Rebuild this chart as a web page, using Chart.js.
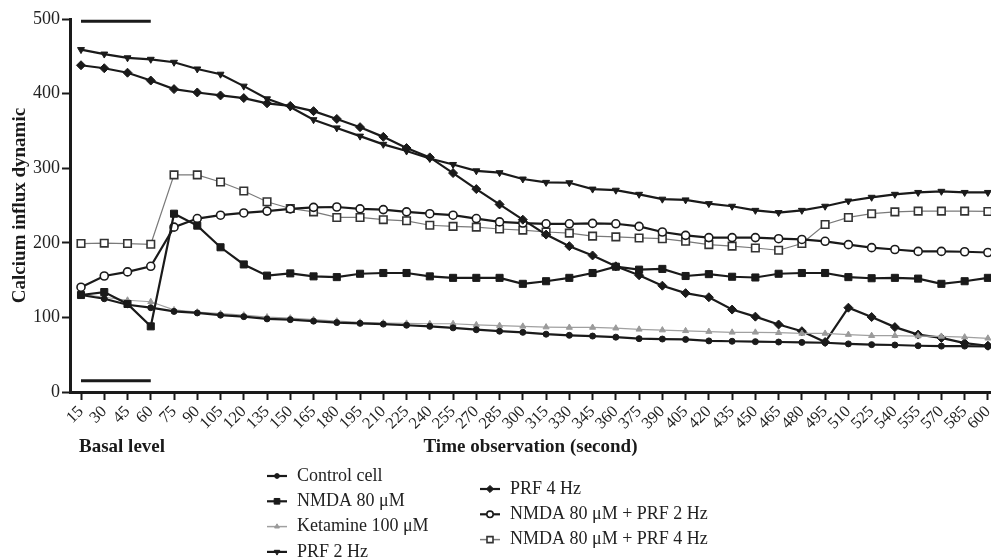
<!DOCTYPE html>
<html>
<head>
<meta charset="utf-8">
<script src="https://cdn.jsdelivr.net/npm/chart.js@4.4.1/dist/chart.umd.min.js"></script>
<style>
  html, body { margin: 0; padding: 0; background: #fff; overflow: hidden; }
  #wrap { width: 991px; height: 558px; position: relative; }
</style>
</head>
<body>
<div id="wrap"><canvas id="calcium-chart"></canvas></div>
<script>
// time points (seconds)
const times = [15, 30, 45, 60, 75, 90, 105, 120, 135, 150, 165, 180, 195, 210, 225, 240, 255, 270, 285, 300,
  315, 330, 345, 360, 375, 390, 405, 420, 435, 450, 465, 480, 495, 510, 525, 540, 555, 570, 585, 600];

const yTicks = [0, 100, 200, 300, 400, 500];

// series
const controlCell = [130, 125, 117, 113, 108, 106, 103, 101, 98, 97, 95, 93, 92, 91, 89.5, 88, 86, 83.5, 81.5, 80,
  77.5, 76, 75, 73.5, 71.5, 71, 70.5, 68.5, 68, 67.5, 67, 66.5, 66, 64.5, 63.5, 63, 62, 61.5, 61.5, 61];
const nmda80 = [130, 134, 118, 88, 239, 223, 194, 171, 156, 159, 155, 154, 158.5, 159.5, 159.5, 155, 153, 153, 153, 145,
  148.5, 153, 159.5, 168, 164, 165, 155.5, 158, 154.5, 153.5, 158.5, 159.5, 159.5, 154, 152.5, 153, 152, 145, 148.5, 153];
const ketamine100 = [131, 127, 123, 121, 110, 107, 105, 103, 100.5, 99, 97, 95, 93.5, 92.5, 92, 91.5, 91.5, 90, 89, 88,
  87, 86.5, 86.5, 85.5, 84, 83, 82, 81, 80, 80, 79.5, 78.5, 78.5, 77, 75.5, 75.5, 75, 74.5, 73.5, 72];
const prf2 = [459, 453, 448, 446, 442, 433, 426, 410, 393, 382, 365, 354, 343, 332, 323, 313, 305, 296.5, 294, 285.5,
  281, 280.5, 272, 270.5, 265, 258.5, 257.5, 252.5, 249, 243.5, 240.5, 243.5, 249, 256, 261, 265, 267.5, 269, 267.5, 267.5];
const prf4 = [438, 434, 428, 417.5, 406, 401.5, 397.5, 394, 387, 383.5, 376.5, 366, 355, 342, 327, 314.5, 293.5, 272, 251.5, 231,
  211, 195.5, 183, 168.5, 156.5, 142.5, 132.5, 127, 110.5, 101, 90.5, 81.5, 67, 113, 100.5, 87, 77, 72.5, 65.5, 62];
const nmdaPrf2 = [140.5, 155.5, 161, 168.5, 221, 232.5, 237, 240, 242.5, 245.5, 247.5, 248, 245.5, 244.5, 241.5, 239, 237, 232.5, 228, 226.5,
  225.5, 225.5, 226, 225.5, 222, 214.5, 210, 207, 207, 207, 205.5, 204.5, 202, 197.5, 193.5, 191, 188.5, 188.5, 188, 187];
const nmdaPrf4 = [199, 199.5, 199, 198, 291, 291, 281.5, 269.5, 255, 246, 241.5, 234, 234, 231, 229.5, 223.5, 222, 221, 218.5, 217,
  214.5, 213, 209, 208, 206.5, 205.5, 202, 197.5, 195.5, 193, 190, 199, 224.5, 234, 239, 241.5, 242.5, 242.5, 242.5, 242];

// basal level bars (15 - 60 s)
const basalTimes = [15, 60];
const basalTop = [497, 497];
const basalBottom = [15, 15];

const INK = '#1a1a1a';
const serif = '"Liberation Serif", "DejaVu Serif", serif';

function toPoints(xs, ys) {
    return ys.map((v, i) => ({ x: xs[i], y: v }));
}

function series(label, values, opts) {
    return Object.assign({
        label: label,
        data: toPoints(times, values),
        borderColor: INK,
        borderWidth: 2.2,
        pointBackgroundColor: INK,
        pointBorderColor: INK,
        pointBorderWidth: 1,
        pointRadius: 3.5,
        pointStyle: 'circle',
        pointRotation: 0,
        tension: 0,
        clip: false
    }, opts);
}

function basalBar(values) {
    return {
        label: '',
        basal: true,
        data: toPoints(basalTimes, values),
        borderColor: INK,
        borderWidth: 3,
        pointRadius: 0,
        clip: false
    };
}

const datasets = [
    series('Control cell', controlCell, { pointRadius: 3 }),
    series('NMDA 80 μM', nmda80, { pointStyle: 'rect', pointRadius: 5 }),
    series('Ketamine 100 μM', ketamine100, {
        borderColor: '#a0a0a0', borderWidth: 1.2,
        pointBackgroundColor: '#9a9a9a', pointBorderColor: '#9a9a9a',
        pointStyle: 'triangle', pointRadius: 3.5
    }),
    series('PRF 2 Hz', prf2, { pointStyle: 'triangle', pointRotation: 180, pointRadius: 4 }),
    series('PRF 4 Hz', prf4, { pointStyle: 'rectRot', pointRadius: 4.5 }),
    series('NMDA 80 μM + PRF 2 Hz', nmdaPrf2, {
        pointBackgroundColor: '#ffffff', pointBorderWidth: 1.6, pointRadius: 4
    }),
    series('NMDA 80 μM + PRF 4 Hz', nmdaPrf4, {
        borderColor: '#7a7a7a', borderWidth: 1.2,
        pointBackgroundColor: '#ffffff', pointBorderColor: '#333333',
        pointBorderWidth: 1.6, pointStyle: 'rect', pointRadius: 5.3
    }),
    basalBar(basalTop),
    basalBar(basalBottom)
];

// two-column legend under the axis, second column centred against the first
const legendColumns = [[0, 1, 2, 3], [4, 5, 6]];

const columnLegend = {
    id: 'columnLegend',
    afterDraw(chart) {
        const ctx = chart.ctx;
        const colX = [267, 480];
        const colTop = [476, 489];
        const rowGap = 25.3;
        ctx.save();
        legendColumns.forEach((col, c) => {
            col.forEach((di, r) => {
                const ds = chart.data.datasets[di];
                const x = colX[c];
                const y = colTop[c] + r * rowGap;
                ctx.strokeStyle = ds.borderColor;
                ctx.lineWidth = Math.max(ds.borderWidth, 1.5);
                ctx.beginPath();
                ctx.moveTo(x, y);
                ctx.lineTo(x + 20, y);
                ctx.stroke();
                ctx.fillStyle = ds.pointBackgroundColor;
                ctx.strokeStyle = ds.pointBorderColor;
                ctx.lineWidth = ds.pointBorderWidth;
                Chart.helpers.drawPoint(ctx, {
                    pointStyle: ds.pointStyle,
                    rotation: ds.pointRotation,
                    radius: ds.pointRadius * 0.8,
                    borderWidth: ds.pointBorderWidth
                }, x + 10, y);
                ctx.fillStyle = '#222';
                ctx.font = '18px ' + serif;
                ctx.textAlign = 'left';
                ctx.textBaseline = 'middle';
                ctx.fillText(ds.label, x + 30, y);
            });
        });
        // "Basal level" note under the first ticks
        const xs = chart.scales.x;
        ctx.fillStyle = INK;
        ctx.font = 'bold 19px ' + serif;
        ctx.textBaseline = 'middle';
        ctx.fillText('Basal level', xs.getPixelForValue(basalTimes[0]) - 2, 447);
        ctx.restore();
    }
};

const config = {
    type: 'line',
    data: { datasets: datasets },
    options: {
        responsive: true,
        maintainAspectRatio: false,
        animation: false,
        layout: { autoPadding: false, padding: { top: 19, left: 0, right: 0, bottom: 0 } },
        plugins: {
            legend: { display: false },
            tooltip: { enabled: false }
        },
        scales: {
            x: {
                type: 'linear',
                min: 7.9,
                max: 602,
                afterBuildTicks: (axis) => { axis.ticks = times.map(v => ({ value: v })); },
                afterFit: (s) => { s.height = 166; s.paddingLeft = 0; s.paddingRight = 0; },
                border: { display: true, color: INK, width: 3 },
                grid: { drawOnChartArea: false, drawTicks: true, tickLength: 8, tickWidth: 2, tickColor: INK },
                ticks: {
                    autoSkip: false,
                    minRotation: 45,
                    maxRotation: 45,
                    padding: 2,
                    color: '#222',
                    font: { family: serif, size: 16.5 }
                },
                title: {
                    display: true,
                    text: 'Time observation (second)',
                    color: INK,
                    font: { family: serif, size: 19, weight: 'bold' },
                    padding: { top: 0, bottom: 99.6 }
                }
            },
            y: {
                min: 0,
                max: 500,
                afterBuildTicks: (axis) => { axis.ticks = yTicks.map(v => ({ value: v })); },
                afterFit: (s) => { s.width = 70; s.paddingTop = 0; s.paddingBottom = 0; },
                border: { display: true, color: INK, width: 3 },
                grid: { drawOnChartArea: false, drawTicks: true, tickLength: 8, tickWidth: 2, tickColor: INK },
                ticks: {
                    padding: 2,
                    color: '#222',
                    font: { family: serif, size: 18 }
                },
                title: {
                    display: true,
                    text: 'Calcium influx dynamic',
                    color: INK,
                    font: { family: serif, size: 19, weight: 'bold' },
                    padding: { top: 9, bottom: 0 }
                }
            }
        }
    },
    plugins: [columnLegend]
};

const calciumChart = new Chart(document.getElementById('calcium-chart'), config);
</script>
</body>
</html>
